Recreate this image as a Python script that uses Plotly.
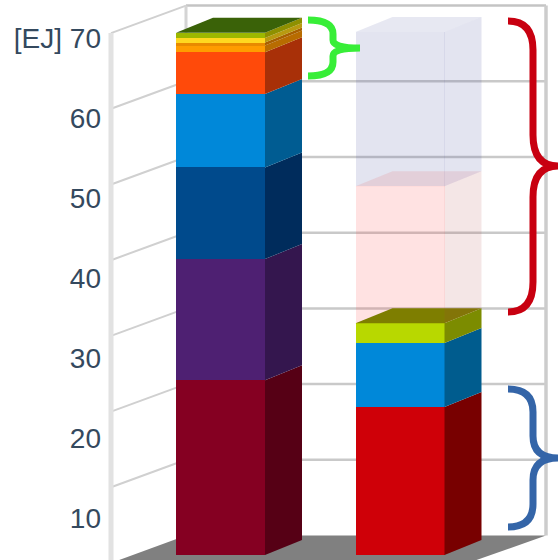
import plotly.graph_objects as go

# ---- data ----
bar_positions = [0, 1]
left_values = [23.1, 16.0, 12.1, 9.7, 5.5, 0.9, 0.4, 0.6, 0.7]
left_colors = ["#850022", "#4e2072", "#004a8c", "#0088d9", "#ff4a0a", "#ff9c00", "#e88a00", "#ffd820", "#9cb800"]
left_sides = ["#560015", "#34164e", "#002c5c", "#005c92", "#a83008", "#b86c00", "#a86000", "#b89a10", "#8e9000"]
left_top = "#3a6208"
right_values = [19.55, 8.45, 2.6, 18.1, 20.4]
right_colors = ["#cf0008", "#0088d9", "#b8d800", "rgba(255,62,62,0.15)", "rgba(68,75,155,0.15)"]
right_sides = ["#780000", "#005c8e", "#7c8c00", "rgba(170,60,60,0.13)", "rgba(68,75,155,0.15)"]
right_tops = [None, None, "#7e7e00", "rgba(230,60,60,0.12)", "rgba(68,75,155,0.13)"]
tick_values = [10, 20, 30, 40, 50, 60, 70]
tick_labels = ["10", "20", "30", "40", "50", "60", "[EJ] 70"]
grid_values = [10, 20, 30, 40, 50, 60]

# ---- layout constants ----
W, H = 558, 560
PX_X = 179.5          # pixels per category step
PX_Y = 7.57           # pixels per EJ
X0 = 220.5            # pixel of first category
Y0 = 555.0            # pixel of value 0 on bar fronts
BAR_W = 89 / PX_X
DX = 37 / PX_X        # bar depth
DV = 15 / PX_Y
WALL_L_FRONT = (111 - X0) / PX_X
WALL_L_BACK = (186 - X0) / PX_X
WALL_R = (546 - X0) / PX_X
FLOOR_R_FRONT = (468 - X0) / PX_X
V_BACK = (Y0 - 535.5) / PX_Y
V_FRONT = (Y0 - 563) / PX_Y
xr = [-X0 / PX_X, (W - X0) / PX_X]
yr = [(Y0 - H) / PX_Y, Y0 / PX_Y]
TOP = 70

fig = go.Figure()


def poly(xs, ys, color, ax=("x2", "y2")):
    fig.add_trace(go.Scatter(x=xs + xs[:1], y=ys + ys[:1], mode="lines", fill="toself",
                             fillcolor=color, line=dict(width=0), hoverinfo="skip",
                             showlegend=False, xaxis=ax[0], yaxis=ax[1]))


def line(xs, ys, color, width):
    fig.add_trace(go.Scatter(x=xs, y=ys, mode="lines", line=dict(color=color, width=width),
                             hoverinfo="skip", showlegend=False, xaxis="x", yaxis="y"))


# floor
poly([WALL_L_FRONT, WALL_L_BACK, WALL_R, FLOOR_R_FRONT],
     [V_FRONT, V_BACK, V_BACK, V_FRONT], "#808080", ("x", "y"))

# back wall and left wall grid
for g in grid_values:
    line([WALL_L_BACK, WALL_R], [g + V_BACK, g + V_BACK], "#c9c9c9", 2.5)
    line([WALL_L_FRONT, WALL_L_BACK], [g + V_FRONT, g + V_BACK], "#d0d0d0", 2)
line([WALL_L_BACK, WALL_R], [TOP + V_BACK, TOP + V_BACK], "#c4c4c4", 2.5)
line([WALL_L_FRONT, WALL_L_BACK], [TOP + V_FRONT, TOP + V_BACK], "#d0d0d0", 2)
line([WALL_R, WALL_R], [V_BACK, TOP + V_BACK], "#cccccc", 3.5)
line([WALL_L_BACK, WALL_L_BACK], [V_BACK, TOP + V_BACK], "#d4d4d4", 3)
line([WALL_L_FRONT, WALL_L_FRONT], [V_FRONT, TOP + V_FRONT], "#e2e2e2", 5)


def stack(pos, values, colors, sides, tops):
    xl, xh = pos - BAR_W / 2, pos + BAR_W / 2
    lo = 0.0
    for v, c, s, t in zip(values, colors, sides, tops):
        hi = lo + v
        fig.add_trace(go.Bar(x=[pos], y=[v], width=BAR_W, marker=dict(color=c, line=dict(width=0)),
                             showlegend=False, hoverinfo="skip", xaxis="x2", yaxis="y2"))
        poly([xh, xh + DX, xh + DX, xh], [lo, lo + DV, hi + DV, hi], s)
        if t:
            poly([xl, xl + DX, xh + DX, xh], [hi, hi + DV, hi + DV, hi], t)
        lo = hi


stack(bar_positions[0], left_values, left_colors, left_sides,
      [None] * (len(left_values) - 1) + [left_top])
stack(bar_positions[1], right_values, right_colors, right_sides, right_tops)

# invisible carrier for the tick-label axis
fig.add_trace(go.Scatter(x=[bar_positions[0]] * len(tick_values), y=tick_values, mode="markers",
                         marker=dict(opacity=0), hoverinfo="skip", showlegend=False,
                         xaxis="x", yaxis="y3"))


def brace(pts, color, width=7):
    (x0, y0), (xm, ya), (xm2, yb), (xt, yt), (xm3, yc), (xm4, yd), (x1, y1) = pts
    px = lambda x: x / W
    py = lambda y: 1 - y / H
    d = (f"M{px(x0)},{py(y0)} Q{px(xm)},{py(y0)} {px(xm)},{py(ya)} L{px(xm2)},{py(yb)} "
         f"Q{px(xm2)},{py(yt)} {px(xt)},{py(yt)} Q{px(xm3)},{py(yt)} {px(xm3)},{py(yc)} "
         f"L{px(xm4)},{py(yd)} Q{px(xm4)},{py(y1)} {px(x1)},{py(y1)}")
    return dict(type="path", xref="paper", yref="paper", path=d,
                line=dict(color=color, width=width), layer="above")


shapes = [
    brace([(308, 20), (333, 34), (333, 40), (360, 48), (333, 56), (333, 62), (308, 76)], "#38ee38"),
    brace([(508, 21), (533, 50), (533, 135), (558, 166), (533, 197), (533, 282), (508, 312)], "#c80010"),
    brace([(508, 389), (533, 412), (533, 436), (558, 458), (533, 480), (533, 504), (508, 527)], "#3465a8"),
]

hidden = dict(visible=False, showgrid=False, zeroline=False, fixedrange=True)
fig.update_layout(
    width=W, height=H, margin=dict(l=0, r=0, t=0, b=0), barmode="stack", bargap=0,
    paper_bgcolor="white", plot_bgcolor="white", showlegend=False, shapes=shapes,
    xaxis=dict(range=xr, **hidden),
    yaxis=dict(range=yr, **hidden),
    xaxis2=dict(range=xr, overlaying="x", anchor="y2", **hidden),
    yaxis2=dict(range=yr, overlaying="y", anchor="x2", **hidden),
    yaxis3=dict(range=[10 - (H - 518) / 8, 10 + 518 / 8], overlaying="y", anchor="free",
                position=101 / W, side="left", tickmode="array", tickvals=tick_values,
                ticktext=tick_labels, showgrid=False, zeroline=False, showline=False,
                ticks="", tickfont=dict(family="Liberation Sans", size=28, color="#34495e")),
)
fig.write_html("out.html", config=dict(displayModeBar=False),
               post_script="document.body.style.margin='0';document.documentElement.style.overflow='hidden';")
